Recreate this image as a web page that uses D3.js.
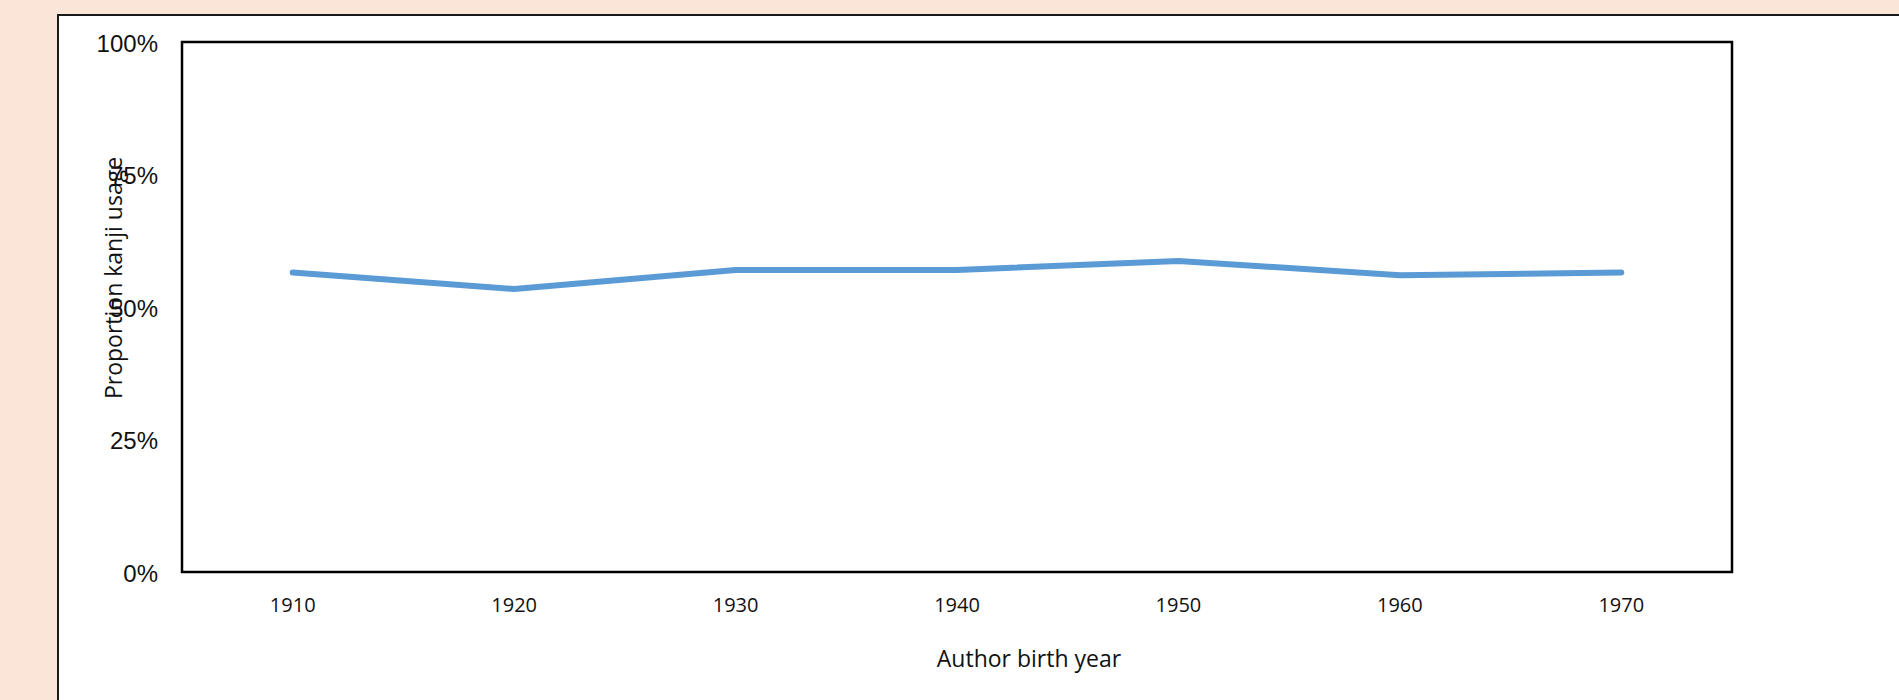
<!DOCTYPE html>
<html>
<head>
<meta charset="utf-8">
<script src="https://cdn.jsdelivr.net/npm/d3@7"></script>
<style>
  html, body { margin: 0; padding: 0; background: #fae5d8; }
  svg { display: block; }
  .ytick text { font-family: "Liberation Sans", Arial, sans-serif; font-size: 24px; fill: #111; }
  .xtick text { font-family: "Open Sans", sans-serif; font-size: 20px; fill: #111; }
  .axis-title { font-family: "Open Sans", sans-serif; font-size: 23px; fill: #111; }
</style>
</head>
<body>
<svg id="chart" width="1899" height="700"></svg>
<script>
// Proportion of kanji by author birth decade
var years = ['1910', '1920', '1930', '1940', '1950', '1960', '1970'];
var kanjiShare = [0.565, 0.534, 0.570, 0.570, 0.587, 0.560, 0.565];
var yTicks = [0, 0.25, 0.5, 0.75, 1];

var W = 1899, H = 700;
var margin = { top: 42, left: 182 };
var iw = 1550, ih = 530;

var svg = d3.select('#chart');

// white card with dark border, running off the right/bottom edge
svg.append('rect')
    .attr('x', 58).attr('y', 15)
    .attr('width', W).attr('height', H)
    .attr('fill', '#fff')
    .attr('stroke', '#1a1a1a').attr('stroke-width', 2);

var g = svg.append('g')
    .attr('transform', 'translate(' + margin.left + ',' + margin.top + ')');

var x = d3.scaleBand().domain(years).range([0, iw]);
var y = d3.scaleLinear().domain([0, 1]).range([ih, 0]);

var yAxis = d3.axisLeft(y).tickValues(yTicks)
    .tickFormat(d3.format('.0%')).tickSize(0).tickPadding(24);
g.append('g').attr('class', 'ytick').call(yAxis)
    .call(function (s) { s.select('.domain').remove(); })
    .selectAll('text').attr('font-family', null).attr('font-size', null)
    .attr('dy', '0.38em');

var xAxis = d3.axisBottom(x).tickSize(0).tickPadding(0);
var xg = g.append('g').attr('class', 'xtick')
    .attr('transform', 'translate(0,' + ih + ')').call(xAxis);
xg.select('.domain').remove();
xg.selectAll('text')
    .attr('font-family', null).attr('font-size', null)
    .attr('y', 40).attr('dy', null);

var line = d3.line()
    .x(function (d, i) { return x(years[i]) + x.bandwidth() / 2; })
    .y(function (d) { return y(d); });

g.append('path').datum(kanjiShare)
    .attr('d', line)
    .attr('fill', 'none')
    .attr('stroke', '#5b9bd5')
    .attr('stroke-width', 6)
    .attr('stroke-linecap', 'round')
    .attr('stroke-linejoin', 'round');

// plot frame
g.append('rect')
    .attr('x', 0).attr('y', 0)
    .attr('width', iw).attr('height', ih)
    .attr('fill', 'none')
    .attr('stroke', '#000').attr('stroke-width', 2.5);

svg.append('text').attr('class', 'axis-title')
    .attr('x', 1029).attr('y', 667)
    .attr('text-anchor', 'middle')
    .text('Author birth year');

svg.append('text').attr('class', 'axis-title')
    .attr('transform', 'translate(122,278) rotate(-90)')
    .attr('text-anchor', 'middle')
    .text('Proportion kanji usage');
</script>
</body>
</html>
